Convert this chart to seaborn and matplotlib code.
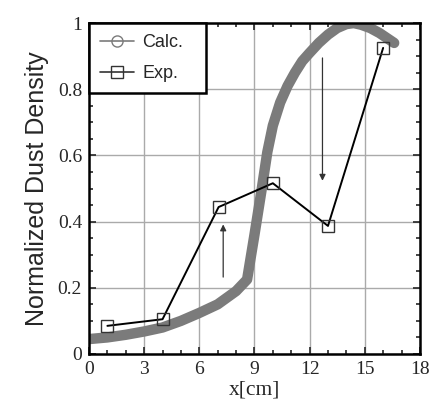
import numpy as np
import pandas as pd
import seaborn as sns
import matplotlib.pyplot as plt
from matplotlib.lines import Line2D
from matplotlib.ticker import MultipleLocator

# calculated profile (thick grey curve)
calc_x = [0, 1, 2, 3, 4, 5, 6, 7, 8, 8.6, 9.0, 9.4, 9.7, 10.0, 10.4, 10.8, 11.2,
          11.6, 12.0, 12.5, 13.0, 13.5, 14.0, 14.4, 14.8, 15.3, 15.8, 16.2, 16.6]
calc_y = [0.045, 0.05, 0.058, 0.068, 0.08, 0.1, 0.124, 0.15, 0.19, 0.225, 0.36, 0.5,
          0.61, 0.69, 0.76, 0.81, 0.85, 0.885, 0.91, 0.94, 0.965, 0.985, 0.997, 1.0,
          0.995, 0.985, 0.97, 0.955, 0.94]

# measured points
exp_x = [1.0, 4.0, 7.05, 10.0, 13.0, 16.0]
exp_y = [0.085, 0.105, 0.444, 0.516, 0.387, 0.925]

xticks = [0, 3, 6, 9, 12, 15, 18]
yticks = [0, 0.2, 0.4, 0.6, 0.8, 1.0]
ytick_labels = ['0', '0.2', '0.4', '0.6', '0.8', '1']

sns.set_style('ticks')
plt.rcParams['font.family'] = ['Liberation Serif', 'DejaVu Serif']
plt.rcParams['xtick.direction'] = 'in'
plt.rcParams['ytick.direction'] = 'in'

df_calc = pd.DataFrame({'x': calc_x, 'y': calc_y})
df_exp = pd.DataFrame({'x': exp_x, 'y': exp_y})

fig = plt.figure(figsize=(4.32, 4.05), dpi=100)
ax = fig.add_axes([0.206, 0.126, 0.766, 0.817])

grey = '#7b7b7b'
sns.lineplot(data=df_calc, x='x', y='y', ax=ax, color=grey, lw=7.5,
             solid_capstyle='round', solid_joinstyle='round', sort=False, zorder=3)
sns.lineplot(data=df_exp, x='x', y='y', ax=ax, color='black', lw=1.4, sort=False,
             marker='s', markersize=8, markerfacecolor='none', markeredgecolor='#333333',
             markeredgewidth=1.0, zorder=4)

# arrows
ax.annotate('', xy=(7.3, 0.40), xytext=(7.3, 0.224),
            arrowprops=dict(arrowstyle='-|>', color='#333333', lw=0.9, mutation_scale=9))
ax.annotate('', xy=(12.7, 0.515), xytext=(12.7, 0.903),
            arrowprops=dict(arrowstyle='-|>', color='#333333', lw=0.9, mutation_scale=9))

ax.set_xlim(0, 18)
ax.set_ylim(0, 1)
ax.set_xticks(xticks)
ax.set_yticks(yticks)
ax.set_yticklabels(ytick_labels)
ax.xaxis.set_minor_locator(MultipleLocator(1))
ax.yaxis.set_minor_locator(MultipleLocator(0.05))
ax.tick_params(which='both', top=True, right=True, labelsize=14, width=1.2, pad=5)
ax.tick_params(which='major', length=5)
ax.tick_params(which='minor', length=3)
ax.grid(True, which='major', color='#aaaaaa', lw=1.0)
for s in ax.spines.values():
    s.set_linewidth(1.8)
    s.set_color('black')
    s.set_zorder(6)

ax.set_xlabel('x[cm]', fontsize=15.5, labelpad=2)
ax.set_ylabel('Normalized Dust Density', fontsize=18, labelpad=6,
              family=['Liberation Sans', 'DejaVu Sans'])

handles = [
    Line2D([], [], color=grey, lw=1.2, marker='o', markersize=8,
           markerfacecolor='none', markeredgecolor=grey),
    Line2D([], [], color='#333333', lw=1.2, marker='s', markersize=8,
           markerfacecolor='none', markeredgecolor='#333333'),
]
leg = ax.legend(handles, ['Calc.', 'Exp.'], loc='upper left',
                bbox_to_anchor=(0, 0.8, 0.353, 0.2), mode='expand', borderaxespad=0,
                fancybox=False, framealpha=1, edgecolor='black', handlelength=1.9,
                handletextpad=0.45, borderpad=0.6, labelspacing=0.8,
                prop={'family': ['Liberation Sans', 'DejaVu Sans'], 'size': 13})
leg.get_frame().set_linewidth(1.8)
leg.set_zorder(7)

fig.savefig('out.png', dpi=100)
